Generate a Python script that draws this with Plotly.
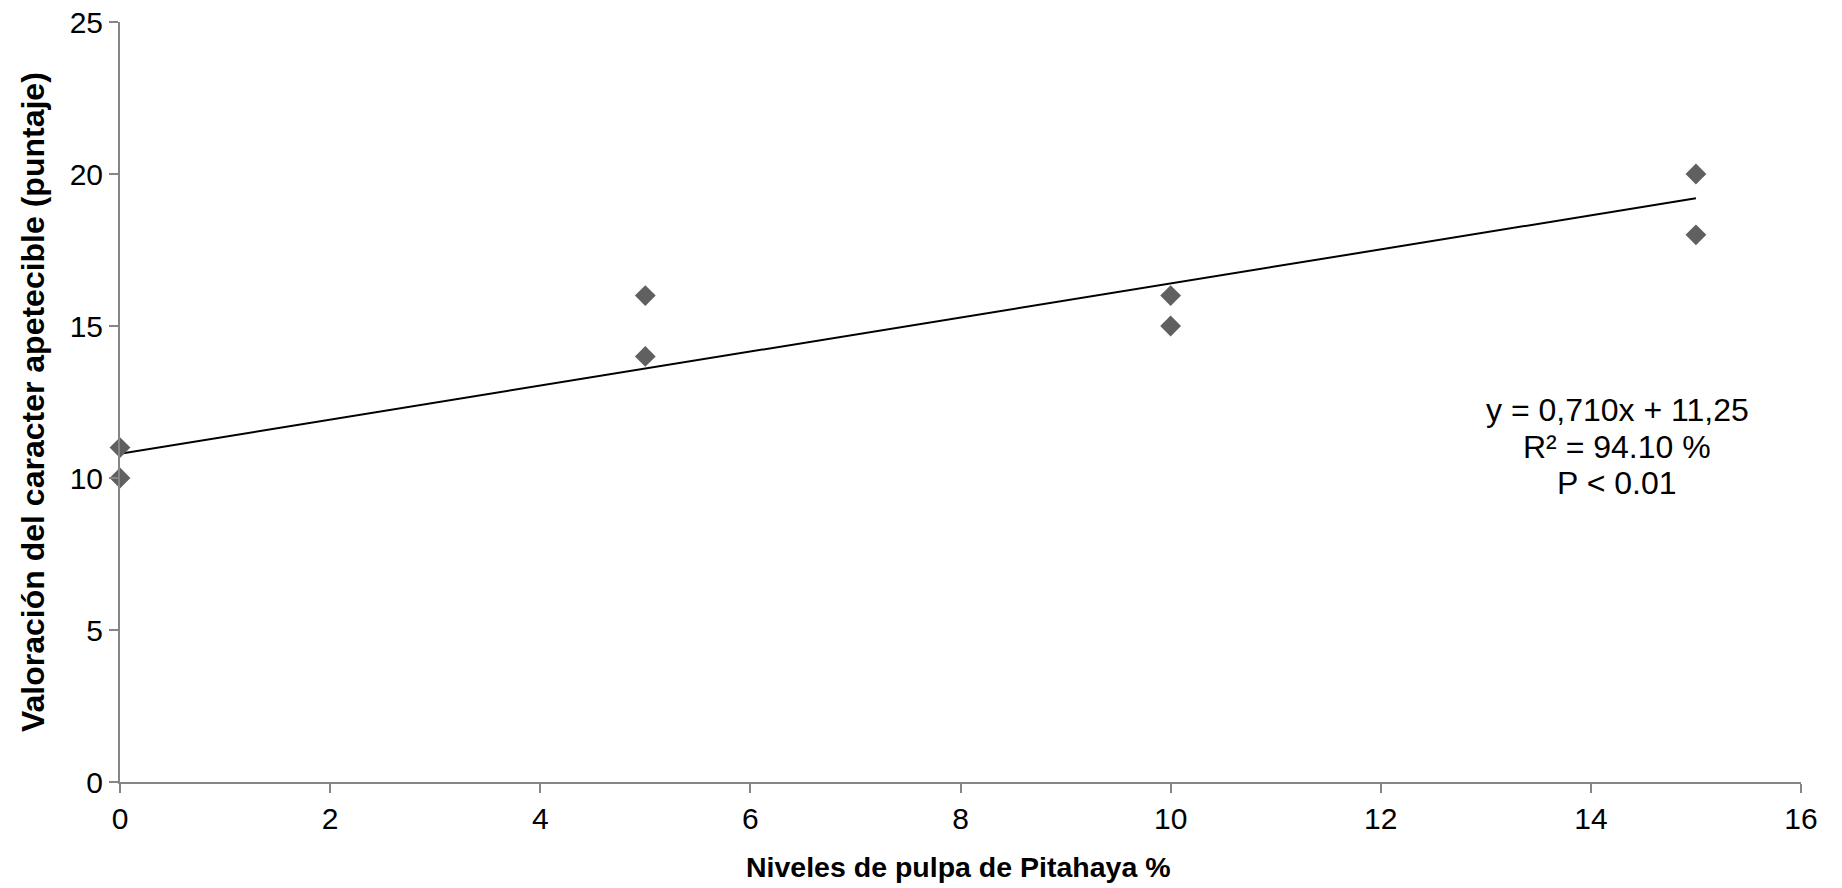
import plotly.graph_objects as go

# Data
pulpa_levels = [0, 0, 5, 5, 10, 10, 15, 15]
scores = [10, 11, 14, 16, 15, 16, 18, 20]

trend_x = [0, 15]
trend_y = [10.8, 19.2]

x_ticks = [0, 2, 4, 6, 8, 10, 12, 14, 16]
y_ticks = [0, 5, 10, 15, 20, 25]

eq_lines = ["y = 0,710x + 11,25", "R² = 94.10 %", "P < 0.01"]
x_title = "Niveles de pulpa de Pitahaya %"
y_title = "Valoración del caracter apetecible (puntaje)"

FONT = "Liberation Sans, Arial, sans-serif"
AXIS_COLOR = "#868686"

fig = go.Figure()

fig.add_trace(go.Scatter(
    x=trend_x, y=trend_y, mode="lines",
    line=dict(color="#000000", width=2),
    showlegend=False, hoverinfo="skip",
))

fig.add_trace(go.Scatter(
    x=pulpa_levels, y=scores, mode="markers",
    marker=dict(symbol="diamond", size=16, color="#606060",
                line=dict(width=0)),
    showlegend=False, cliponaxis=False,
))

annotations = []
for i, line in enumerate(eq_lines):
    annotations.append(dict(
        text=line, xref="x", yref="y", x=14.25, y=11.03,
        yshift=(1 - i) * 36.5, xanchor="center", yanchor="middle",
        showarrow=False, font=dict(family=FONT, size=32, color="#000000"),
    ))
annotations.append(dict(
    text="<b>" + x_title + "</b>", xref="paper", yref="paper",
    x=0.4987, y=0, xanchor="center", yanchor="middle", yshift=-85,
    showarrow=False, font=dict(family=FONT, size=28.5, color="#000000")))
annotations.append(dict(
    text="<b>" + y_title + "</b>", xref="paper", yref="paper",
    x=0, y=0.5, xanchor="center", yanchor="middle", xshift=-87,
    textangle=-90, showarrow=False,
    font=dict(family=FONT, size=32, color="#000000")))

fig.update_layout(
    width=1842, height=888,
    margin=dict(l=120, r=41, t=22, b=106, autoexpand=False),
    paper_bgcolor="white", plot_bgcolor="white",
    font=dict(family=FONT, size=30, color="#000000"),
    xaxis=dict(
        range=[0, 16], tickvals=x_ticks, ticktext=[str(v) for v in x_ticks],
        showgrid=False, zeroline=False,
        showline=True, linecolor=AXIS_COLOR, linewidth=2,
        ticks="outside", ticklen=9, tickwidth=2, tickcolor=AXIS_COLOR,
        tickfont=dict(family=FONT, size=30, color="#000000"),
        automargin=False, fixedrange=True,
    ),
    yaxis=dict(
        range=[0, 25], tickvals=y_ticks, ticktext=[str(v) for v in y_ticks],
        showgrid=False, zeroline=False,
        showline=True, linecolor=AXIS_COLOR, linewidth=2,
        ticks="outside", ticklen=9, tickwidth=2, tickcolor=AXIS_COLOR,
        tickfont=dict(family=FONT, size=30, color="#000000"),
        automargin=False, fixedrange=True,
    ),
    annotations=annotations,
)

fig.write_html("out.html")
